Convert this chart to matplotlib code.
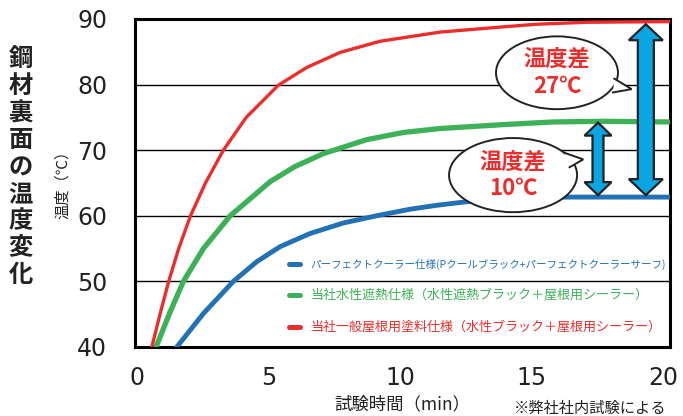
import matplotlib
matplotlib.use("Agg")
import matplotlib.pyplot as plt
from matplotlib.patches import Ellipse, Polygon

plt.rcParams['font.family'] = ['Noto Sans CJK JP', 'DejaVu Sans']

# 試験時間(min) と鋼材裏面温度(℃)
red_t = [0.56, 0.87, 1.2, 1.58, 2.03, 2.6, 3.28, 4.15, 5.37, 6.45, 7.72,
         9.24, 11.52, 13.93, 15.2, 17.1, 20.27]
red_v = [40, 45, 50, 55, 60, 65, 70, 75, 79.9, 82.6, 84.9,
         86.6, 88.0, 88.8, 89.2, 89.5, 89.6]

green_t = [0.72, 1.25, 1.76, 2.52, 3.54, 5.06, 6.0, 7.1, 8.73, 10.13, 11.52,
           13.93, 15.83, 17.7, 20.27]
green_v = [40, 45.3, 50, 55.0, 60, 65.2, 67.5, 69.5, 71.6, 72.7, 73.3,
           73.9, 74.3, 74.4, 74.3]

blue_t = [1.51, 2.52, 3.66, 4.55, 5.44, 6.58, 7.84, 9.11, 10.38, 11.4, 12.66,
          13.93, 15.96, 20.27]
blue_v = [40, 45.1, 50, 53, 55.3, 57.3, 58.9, 60.0, 61.0, 61.6, 62.2,
          62.6, 62.85, 62.85]

labels = ['パーフェクトクーラー仕様(Pクールブラック+パーフェクトクーラーサーフ)',
          '当社水性遮熱仕様（水性遮熱ブラック＋屋根用シーラー）',
          '当社一般屋根用塗料仕様（水性ブラック＋屋根用シーラー）']
label_sizes = [7.6, 9.4, 9.4]
colors = ['#2271b5', '#3db157', '#ec2d2b']
arrow_color = '#0aa6e4'
ink = '#222222'

fig = plt.figure(figsize=(6.83, 4.16), dpi=100)
ax = fig.add_axes([0.1977, 0.1659, 0.7833, 0.7885])
ax.set_xlim(-0.08, 20.27)
ax.set_ylim(40, 90)

for y in [50, 60, 70, 80]:
    ax.axhline(y, color='black', lw=1.0, zorder=1)

ax.plot(blue_t, blue_v, color=colors[0], lw=3.5, zorder=3)
ax.plot(green_t, green_v, color=colors[1], lw=3.8, zorder=3)
ax.plot(red_t, red_v, color=colors[2], lw=2.4, zorder=3)

for s in ax.spines.values():
    s.set_linewidth(2.2)
ax.tick_params(length=0)
ax.tick_params(axis='y', pad=20)
ax.tick_params(axis='x', pad=14)
ax.set_xticks([0, 5, 10, 15, 20])
ax.set_yticks([40, 50, 60, 70, 80, 90])
for lab in ax.get_yticklabels() + ax.get_xticklabels():
    lab.set_fontsize(17)
    lab.set_family('DejaVu Sans')
    lab.set_color(ink)

# 凡例
leg_y = [0.253, 0.159, 0.061]
for lab, c, size, y in zip(labels, colors, label_sizes, leg_y):
    ax.plot([0.287, 0.309], [y, y], transform=ax.transAxes, color=c, lw=3.6,
            solid_capstyle='round', zorder=3)
    ax.text(0.327, y, lab, transform=ax.transAxes, color=c, fontsize=size,
            ha='left', va='center', zorder=3)

# pixel scale of data units
fw, fh = fig.get_size_inches() * fig.dpi
pos = ax.get_position()
px_x = pos.width * fw / (20.27 + 0.08)
px_y = pos.height * fh / 50.0


def double_arrow(x, y0, y1, shaft, head, head_len):
    sw = shaft / 2 / px_x
    hw = head / 2 / px_x
    hl = head_len / px_y
    pts = [(x, y1), (x + hw, y1 - hl), (x + sw, y1 - hl), (x + sw, y0 + hl),
           (x + hw, y0 + hl), (x, y0), (x - hw, y0 + hl), (x - sw, y0 + hl),
           (x - sw, y1 - hl), (x - hw, y1 - hl)]
    ax.add_patch(Polygon(pts, closed=True, facecolor=arrow_color,
                         edgecolor=ink, lw=1.6, zorder=5, joinstyle='miter'))


def bubble(cx, cy, w, h, base_a, tip, base_b, text):
    ax.add_patch(Ellipse((cx, cy), w, h, facecolor='white', edgecolor=ink,
                         lw=1.4, zorder=4))
    ax.add_patch(Polygon([base_a, tip, base_b], closed=True, facecolor='white',
                         edgecolor='none', zorder=4.1))
    ax.plot([base_a[0], tip[0], base_b[0]], [base_a[1], tip[1], base_b[1]],
            color=ink, lw=1.4, zorder=4.2, solid_joinstyle='miter')
    ax.text(cx, cy, text, ha='center', va='center', fontsize=16,
            fontweight='bold', color='#ec2d2b', linespacing=1.2, zorder=6)


blue_end = blue_v[-1]
green_end = green_v[-1]
red_end = red_v[-1]

bubble(15.97, 81.8, 4.64, 11.1, (18.15, 80.9), (18.81, 79.3), (18.1, 78.8),
       '温度差\n27℃')
bubble(14.3, 66.2, 4.87, 11.3, (16.25, 69.6), (16.97, 68.6), (16.45, 67.4),
       '温度差\n10℃')

double_arrow(17.53, blue_end + 0.3, green_end - 0.1, 11, 27, 13)
double_arrow(19.35, blue_end + 0.3, red_end - 0.4, 16, 34, 16)

# 縦書きのタイトル
title = '鋼材裏面の温度変化'
for i, ch in enumerate(title):
    fig.text(20.5 / fw, 1 - (59.5 + i * 26.9) / fh, ch, ha='center',
             va='center', fontsize=17.5, fontweight='bold', color=ink)

fig.text(62 / fw, 1 - 181 / fh, '温度（℃）', rotation=90, ha='center',
         va='center', fontsize=11, color=ink)
fig.text(402 / fw, 1 - 404 / fh, '試験時間（min）', ha='center', va='center',
         fontsize=12.5, color=ink)
fig.text(590 / fw, 1 - 408 / fh, '※弊社社内試験による', ha='center', va='center',
         fontsize=11, color=ink)

fig.savefig('out.png', dpi=100)
